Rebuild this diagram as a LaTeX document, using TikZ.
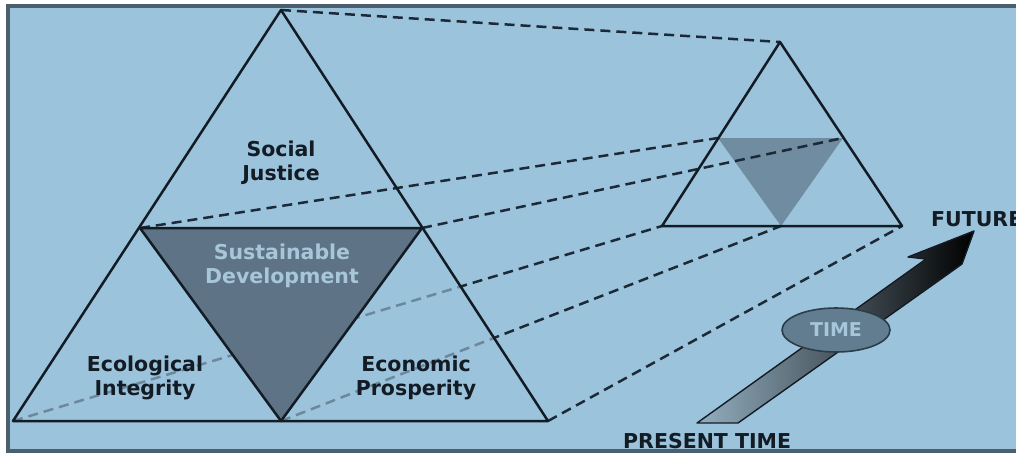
\documentclass[tikz,border=0pt]{standalone}
\usepackage{fontspec}
\setmainfont{DejaVu Sans}
\usetikzlibrary{shapes.geometric}
\definecolor{sky}{HTML}{9CC3DC}
\definecolor{framegray}{HTML}{4B5F6D}
\definecolor{ink}{HTML}{131C24}
\definecolor{dashink}{HTML}{1C2A38}
\definecolor{slate}{HTML}{5E7486}
\definecolor{paleslate}{HTML}{6F8CA1}
\definecolor{paletext}{HTML}{A8C6DA}
\definecolor{ovalfill}{HTML}{627D90}
\definecolor{ovaledge}{HTML}{2C3D4A}
\begin{document}
\begin{tikzpicture}[x=1pt,y=-1pt,
  edge/.style={draw=ink,line width=2.5pt,line join=round},
  link/.style={draw=dashink,line width=2.5pt,dash pattern=on 10pt off 6pt},
  label/.style={font=\fontsize{20.5}{24.5}\selectfont\bfseries,text=ink,align=center,inner sep=0pt},
  invlabel/.style={label,text=paletext},
]
\useasboundingbox (0,0) rectangle (1016,452);
\clip (0,0) rectangle (1016,452);
\fill[white] (0,0) rectangle (1016,452);
\fill[sky] (7,6) rectangle (1016,450);

% large triangle: apex, base corners, midline points, base middle
\coordinate (A)  at (281,10);
\coordinate (BL) at (13,421);
\coordinate (BR) at (548,421);
\coordinate (ML) at (140,228);
\coordinate (MR) at (422,228);
\coordinate (BM) at (281,421);

% small triangle
\coordinate (a)  at (780,42);
\coordinate (bl) at (662,226);
\coordinate (br) at (902,226);
\coordinate (ml) at (718,138);
\coordinate (mr) at (843,138);
\coordinate (bm) at (781,226);

% shaded core of the small triangle
\fill[paleslate] (ml) -- (mr) -- (bm) -- cycle;

% projection lines between the two triangles
\draw[link] (A)  -- (a);
\draw[link] (ML) -- (ml);
\draw[link] (MR) -- (mr);
\draw[link] (BL) -- (bl);
\draw[link] (BM) -- (bm);
\draw[link] (BR) -- (br);

% lower pillars veil the lines passing behind them
\fill[sky,opacity=0.62] (BL) -- (ML) -- (BM) -- cycle;
\fill[sky,opacity=0.62] (BM) -- (MR) -- (BR) -- cycle;

% sustainable development core
\fill[slate] (ML) -- (MR) -- (BM) -- cycle;
\draw[edge] (ML) -- (MR) -- (BM) -- cycle;

% outlines
\draw[edge] (A) -- (BR) -- (BL) -- cycle;
\draw[edge] (a) -- (br) -- (bl) -- cycle;

% labels
\node[label]    (social) at (281,163) {Social\\Justice};
\node[invlabel] (sd)     at (282,266) {Sustainable\\Development};
\node[label]    (eco)    at (145,378) {Ecological\\Integrity};
\node[label]    (econ)   at (416,378) {Economic\\Prosperity};

% time arrow
\shade[left color=sky!70!gray, middle color=ovalfill!65!black, right color=black]
  (697,423) -- (738,423) -- (948,274) -- (962,264) -- (974,231)
  -- (908,257) -- (926,259) -- cycle;
\draw[ink,line width=1.4pt,line join=round]
  (697,423) -- (738,423) -- (948,274) -- (962,264) -- (974,231)
  -- (908,257) -- (926,259) -- cycle;

\node[ellipse,draw=ovaledge,line width=1.6pt,fill=ovalfill,
      minimum width=108pt,minimum height=44pt,inner sep=0pt,
      font=\fontsize{19}{22}\selectfont\bfseries,text=paletext] (time) at (836,330) {TIME};

\node[label,anchor=west]      (future)  at (931,219.5) {FUTURE};
\node[label,anchor=base west] (present) at (623,448) {PRESENT TIME};

% frame
\draw[framegray,line width=4pt] (1020,6) -- (7.5,6) -- (7.5,450.5) -- (1020,450.5);
\end{tikzpicture}
\end{document}
